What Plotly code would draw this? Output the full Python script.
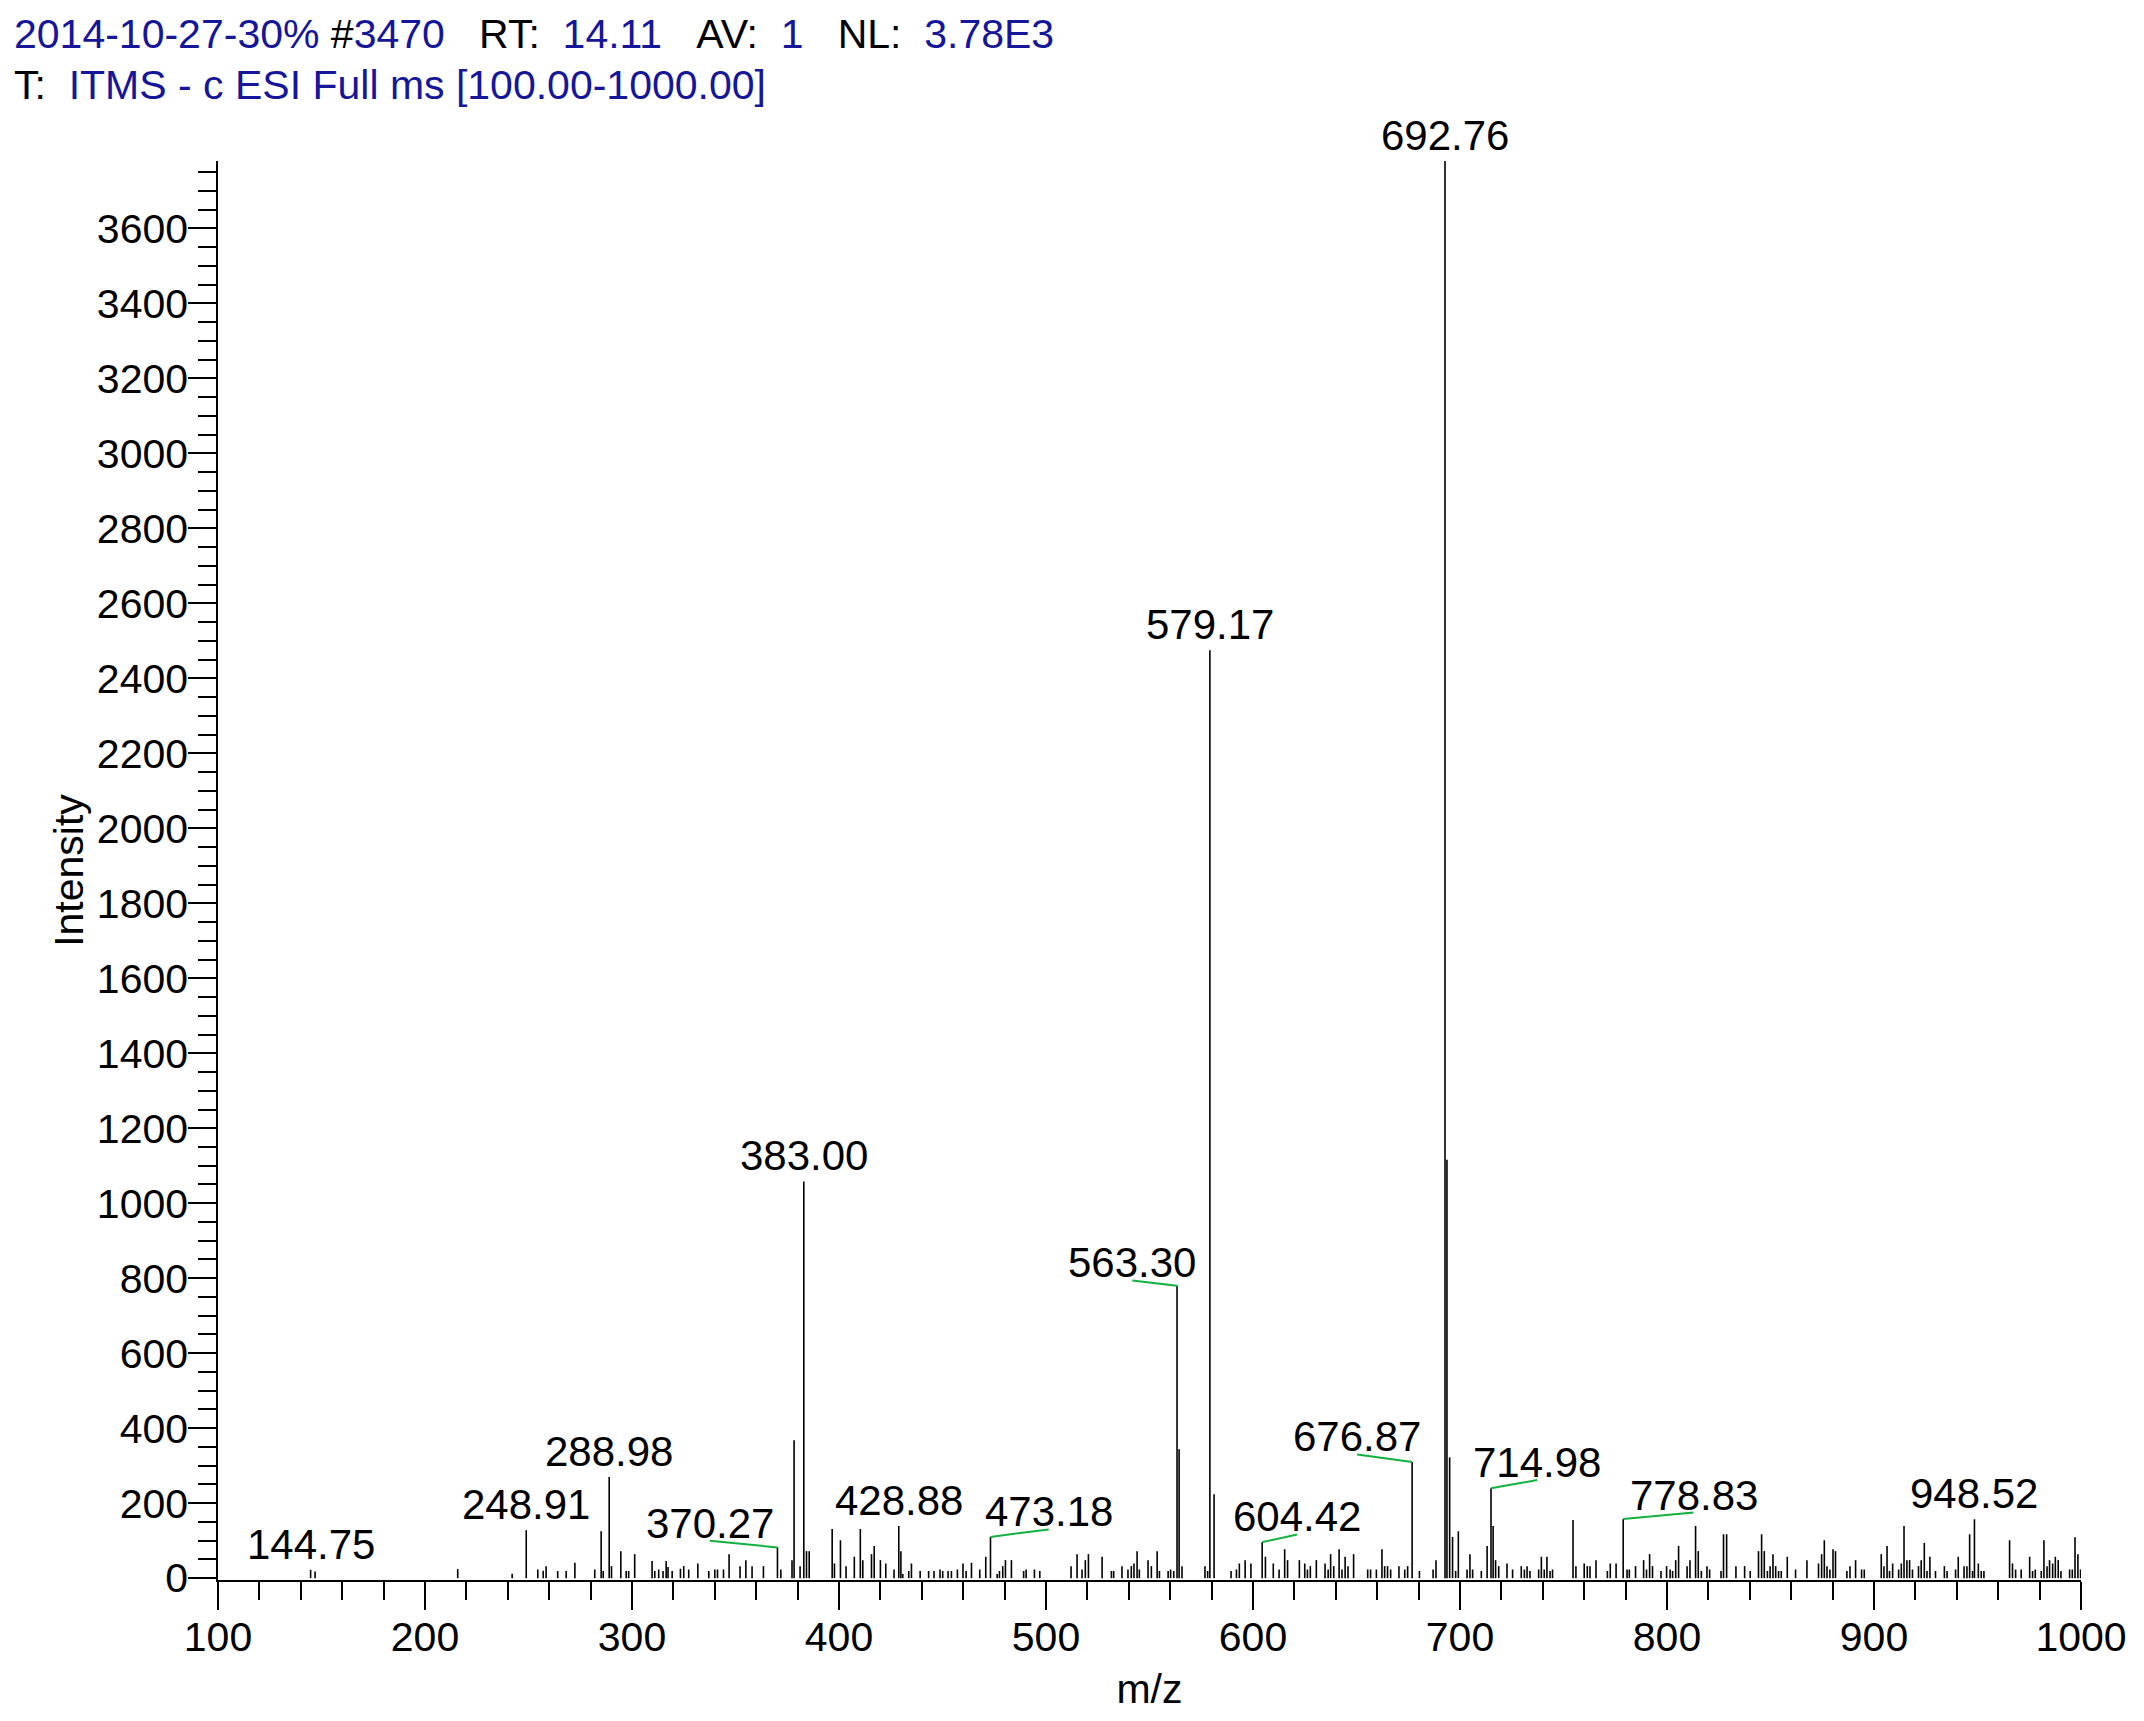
import plotly.graph_objects as go

# ---------------- data ----------------
mz = [144.75, 146.9, 215.8, 242.1, 248.91, 254.5, 257.1, 258.5, 264.1, 268.2, 272.4, 282.0, 285.1, 286.1,
      288.98, 290.1, 294.6, 297.2, 298.4, 301.3, 309.7, 311.0, 312.9, 315.0, 316.5, 317.4, 319.4, 323.4,
      325.0, 327.4, 331.8, 337.1, 340.0, 341.3, 344.2, 346.9, 352.2, 355.0, 358.0, 363.5, 370.27, 371.9,
      377.3, 378.3, 381.2, 383.00, 384.3, 385.6, 396.7, 397.8, 400.7, 403.4, 407.4, 410.3, 411.5, 415.7,
      417.0, 420.0, 422.6, 426.6, 428.88, 429.9, 430.8, 433.7, 435.0, 439.2, 443.3, 445.9, 448.8, 450.1,
      452.7, 454.3, 457.2, 459.9, 461.4, 464.0, 468.0, 470.9, 473.18, 476.4, 477.5, 479.1, 480.4, 483.3,
      489.2, 490.4, 494.4, 497.0, 512.1, 515.0, 517.4, 519.0, 520.5, 527.1, 531.6, 532.7, 536.7, 539.6,
      541.2, 542.5, 544.0, 545.1, 549.3, 550.9, 553.7, 554.8, 559.0, 560.2, 561.7, 563.30, 564.3, 565.7,
      576.8, 578.1, 579.17, 581.2, 589.4, 592.0, 593.4, 596.2, 599.0, 604.42, 606.0, 609.8, 612.6, 615.3,
      616.7, 622.4, 625.0, 626.3, 627.7, 630.6, 634.8, 636.3, 637.5, 639.0, 641.6, 643.0, 644.5, 645.9,
      648.6, 655.4, 656.8, 659.6, 662.3, 663.6, 665.0, 666.5, 670.5, 673.3, 674.7, 676.87, 680.4, 687.0,
      688.4, 692.76, 693.7, 695.0, 696.4, 697.9, 699.2, 703.4, 704.8, 706.1, 710.3, 713.1, 714.98, 716.0,
      717.2, 718.7, 722.7, 725.4, 729.6, 731.1, 732.4, 733.8, 738.0, 739.3, 740.7, 742.0, 743.5, 744.7,
      754.6, 756.0, 760.0, 761.5, 762.8, 765.7, 771.2, 772.6, 775.4, 778.83, 780.7, 781.8, 784.8, 788.7,
      790.1, 791.6, 793.0, 797.1, 799.8, 801.5, 802.7, 804.2, 805.6, 809.7, 811.1, 813.8, 815.1, 816.6,
      819.3, 820.6, 826.1, 827.3, 828.8, 833.3, 837.5, 840.2, 844.2, 845.7, 847.0, 848.5, 849.8, 851.2,
      852.5, 853.9, 855.2, 858.1, 862.1, 867.6, 873.2, 874.7, 876.0, 877.3, 878.7, 880.2, 881.4, 886.9,
      888.4, 891.1, 894.0, 895.3, 903.5, 904.8, 906.3, 907.5, 909.0, 911.9, 913.2, 914.5, 915.9, 917.2,
      918.6, 921.5, 922.8, 924.3, 925.6, 927.0, 929.7, 934.0, 935.3, 939.4, 940.7, 943.5, 944.9, 946.2,
      947.6, 948.52, 950.4, 951.8, 953.1, 965.5, 966.9, 968.4, 971.1, 975.2, 976.6, 977.9, 980.8, 982.1,
      983.6, 984.8, 986.3, 987.6, 989.0, 990.3, 994.5, 995.8, 997.1, 998.5, 999.8]

intensity = [22, 18, 24, 12, 128, 23, 20, 32, 19, 19, 41, 23, 125, 19,
             270, 32, 72, 19, 19, 64, 46, 19, 23, 19, 46, 30, 19, 25,
             32, 23, 39, 19, 23, 23, 23, 64, 32, 48, 32, 32, 82, 23,
             48, 368, 32, 1058, 72, 72, 131, 39, 101, 32, 57, 131, 48, 64,
             86, 48, 39, 23, 139, 72, 11, 19, 39, 19, 19, 19, 23, 19,
             19, 19, 23, 39, 19, 41, 23, 57, 110, 11, 19, 32, 48, 48,
             19, 23, 23, 19, 32, 64, 23, 48, 64, 57, 19, 19, 32, 23,
             32, 39, 72, 23, 48, 32, 72, 19, 19, 23, 19, 780, 344, 32,
             32, 19, 2475, 224, 19, 23, 39, 48, 39, 96, 57, 39, 23, 77,
             48, 48, 39, 23, 32, 48, 39, 23, 64, 32, 77, 23, 57, 32,
             64, 23, 23, 23, 77, 32, 32, 23, 32, 23, 32, 310, 19, 23,
             48, 3780, 1116, 322, 110, 19, 125, 23, 64, 23, 19, 86, 240, 139,
             48, 32, 39, 23, 32, 23, 32, 19, 23, 57, 23, 57, 19, 23,
             155, 32, 39, 32, 32, 48, 19, 39, 39, 158, 23, 23, 32, 48,
             23, 64, 32, 19, 32, 23, 19, 48, 86, 32, 48, 139, 72, 19,
             32, 23, 19, 117, 117, 32, 32, 19, 72, 117, 72, 19, 32, 64,
             32, 19, 19, 57, 23, 48, 39, 64, 101, 32, 23, 77, 72, 19,
             32, 48, 23, 23, 64, 32, 86, 19, 39, 23, 39, 139, 48, 48,
             23, 32, 48, 94, 19, 57, 19, 32, 19, 23, 57, 32, 32, 117,
             19, 157, 39, 19, 19, 101, 39, 23, 23, 57, 19, 23, 19, 101,
             32, 48, 39, 57, 48, 19, 23, 23, 109, 64, 23]

# peaks that carry an m/z label
labeled_direct = [144.75, 248.91, 288.98, 383.00, 428.88, 579.17, 692.76, 948.52]
labeled_leader = [370.27, 473.18, 563.30, 604.42, 676.87, 714.98, 778.83]

x_ticks = [100, 200, 300, 400, 500, 600, 700, 800, 900, 1000]
y_ticks = list(range(0, 3601, 200))

header_line1 = [("2014-10-27-30%", "blue"), (" #", "black"), ("3470", "blue"), ("   RT:  ", "black"),
                ("14.11", "blue"), ("   AV:  ", "black"), ("1", "blue"), ("   NL:  ", "black"),
                ("3.78E3", "blue")]
header_line2 = [("T:  ", "black"), ("ITMS - c ESI Full ms [100.00-1000.00]", "blue")]

# ---------------- placement / style (not data) ----------------
# label anchor positions for labels that are connected with a green leader line (m/z, intensity)
leader_label_pos = {
    370.27: (337.6, 99.5),
    473.18: (501.3, 130),
    563.30: (541.7, 794),
    604.42: (621.3, 116.6),
    676.87: (650.3, 330),
    714.98: (737.3, 261.5),
    778.83: (812.8, 175),
}

FONT = "Liberation Sans, Arial, Helvetica, sans-serif"
BLUE = "#16169a"
GREEN = "#12b140"
FS = 41

fig = go.Figure()

# stick spectrum
xs, ys = [], []
for m, v in zip(mz, intensity):
    xs += [m, m, None]
    ys += [0, v, None]
fig.add_trace(go.Scatter(x=xs, y=ys, mode="lines", line=dict(color="black", width=1.6),
                         hoverinfo="skip", showlegend=False))

peak_lookup = dict(zip(mz, intensity))

# leader lines
lx, ly = [], []
for m in labeled_leader:
    px_, py_ = leader_label_pos[m]
    lx += [m, px_, None]
    ly += [peak_lookup[m], py_, None]
fig.add_trace(go.Scatter(x=lx, y=ly, mode="lines", line=dict(color=GREEN, width=2),
                         hoverinfo="skip", showlegend=False))

annotations = []
for m in labeled_direct:
    annotations.append(dict(x=m, y=peak_lookup[m], xref="x", yref="y", text=f"{m:.2f}",
                            showarrow=False, xanchor="center", yanchor="bottom",
                            font=dict(family=FONT, size=42, color="black")))
for m in labeled_leader:
    px_, py_ = leader_label_pos[m]
    annotations.append(dict(x=px_, y=py_, xref="x", yref="y", text=f"{m:.2f}",
                            showarrow=False, xanchor="center", yanchor="bottom", yshift=-8,
                            font=dict(family=FONT, size=42, color="black")))


def seg_html(segs):
    out = ""
    for t, c in segs:
        col = BLUE if c == "blue" else "black"
        out += f'<span style="color:{col}">{t.replace(" ", chr(160))}</span>'
    return out


# page body adds an 8px offset; compensate in figure size/margins
W, H = 2136, 1713
L, T = 209.5, 153
pw, ph = 1863.5, 1419
R = W - L - pw
B = H - T - ph
for i, line in enumerate([header_line1, header_line2]):
    top_px = 1 + 51 * i
    annotations.append(dict(x=(3 - L) / pw, y=1 + (T - top_px) / ph, xref="paper", yref="paper",
                            xanchor="left", yanchor="top", align="left", showarrow=False,
                            text=seg_html(line),
                            font=dict(family=FONT, size=FS, color="black")))

axis_common = dict(
    showline=True, linecolor="black", linewidth=1.5, mirror=False,
    showgrid=False, zeroline=False,
    ticks="outside", ticklen=28, tickwidth=1.5, tickcolor="black",
    tickfont=dict(family=FONT, size=FS, color="black"),
    ticklabelstandoff=-8,
)

fig.update_layout(
    width=W, height=H, autosize=False,
    margin=dict(l=L, r=R, t=T, b=B, pad=0),
    paper_bgcolor="white", plot_bgcolor="white",
    showlegend=False,
    annotations=annotations,
    xaxis=dict(range=[100, 1000], tickmode="array", tickvals=x_ticks,
               ticktext=[str(v) for v in x_ticks],
               minor=dict(dtick=20, tick0=100, ticklen=18, tickwidth=1.5, tickcolor="black",
                          ticks="outside", showgrid=False),
               title=dict(text="m/z", font=dict(family=FONT, size=FS, color="black"), standoff=15),
               **axis_common),
    yaxis=dict(range=[-5, 3780], tickmode="array", tickvals=y_ticks,
               ticktext=[str(v) for v in y_ticks],
               minor=dict(dtick=50, tick0=0, ticklen=18, tickwidth=1.5, tickcolor="black",
                          ticks="outside", showgrid=False),
               title=dict(text="Intensity", font=dict(family=FONT, size=FS, color="black"), standoff=0),
               **axis_common),
)

fig.write_html("out.html")
